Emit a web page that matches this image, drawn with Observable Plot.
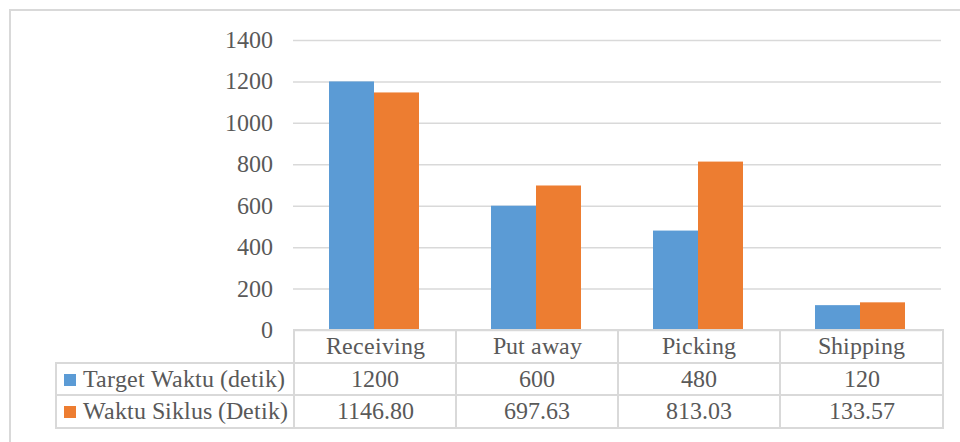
<!DOCTYPE html>
<html>
<head>
<meta charset="utf-8">
<script src="https://cdn.jsdelivr.net/npm/d3@7"></script>
<script src="https://cdn.jsdelivr.net/npm/@observablehq/plot@0.6"></script>
<style>
  @font-face { font-family: "ChartSerif"; src: local("Liberation Serif"), local("LiberationSerif-Regular"), local("LiberationSerif"), local("DejaVu Serif"), local("DejaVuSerif"); }
  html, body { margin: 0; padding: 0; background: #fff; overflow: hidden; }
  #wrap { position: relative; width: 960px; height: 442px; overflow: hidden; font-family: ChartSerif, 'Liberation Serif', 'Times New Roman', Times, serif; color: #595959; }
  #frame { position: absolute; left: 9px; top: 9px; width: 1000px; height: 500px; border: 2px solid #d9d9d9; box-sizing: border-box; }
  #chart { position: absolute; left: 0; top: 0; }
  #chart svg, #chart svg text { font-family: ChartSerif, 'Liberation Serif', 'Times New Roman', Times, serif !important; }
  #tbl { position: absolute; left: 55px; top: 329px; border-collapse: collapse; table-layout: fixed; width: 887px; font-size: 23.5px; font-family: ChartSerif, 'Liberation Serif', 'Times New Roman', Times, serif; }
  #tbl td { border: 2px solid #d9d9d9; height: 30.5px; padding: 0; text-align: center; vertical-align: middle; line-height: 30px; white-space: nowrap; color: #595959; }
  #tbl td.blank { border-top: none; border-left: none; }
  #tbl td.name { text-align: left; padding-left: 7px; }
  .sw { display: inline-block; width: 12px; height: 12px; margin-right: 7px; vertical-align: 1px; }
</style>
</head>
<body>
<div id="wrap">
  <div id="frame"></div>
  <div id="chart"></div>
  <table id="tbl"></table>
</div>
<script>
const categories = ["Receiving", "Put away", "Picking", "Shipping"];
const seriesNames = ["Target Waktu (detik)", "Waktu Siklus (Detik)"];
const targetValues = [1200, 600, 480, 120];
const cycleValues = [1146.80, 697.63, 813.03, 133.57];
const targetLabels = ["1200", "600", "480", "120"];
const cycleLabels = ["1146.80", "697.63", "813.03", "133.57"];
const yTicks = [0, 200, 400, 600, 800, 1000, 1200, 1400];
const colors = ["#5B9BD5", "#ED7D31"];

const rows = [];
categories.forEach((c, i) => {
  rows.push({category: c, series: seriesNames[0], value: targetValues[i]});
  rows.push({category: c, series: seriesNames[1], value: cycleValues[i]});
});

const font = "ChartSerif, 'Liberation Serif', 'Times New Roman', Times, serif";
const plot = Plot.plot({
  width: 960,
  height: 442,
  marginTop: 40,
  marginBottom: 112,
  marginLeft: 293,
  marginRight: 19,
  style: {fontFamily: font, color: "#595959", background: "transparent", overflow: "visible"},
  fx: {domain: categories, paddingInner: 0, paddingOuter: 0, axis: null, label: null},
  x: {domain: seriesNames, paddingInner: 0, paddingOuter: 0.761, axis: null, label: null},
  y: {domain: [0, 1400], ticks: yTicks, label: null},
  color: {domain: seriesNames, range: colors},
  marks: [
    Plot.gridY(yTicks, {stroke: "#d9d9d9", strokeOpacity: 1, strokeWidth: 1.5}),
    Plot.barY(rows, {fx: "category", x: "series", y: "value", fill: "series", inset: 0}),
    Plot.axisY(yTicks, {tickSize: 0, tickPadding: 21, fontSize: 23.5, fill: "#595959", label: null, tickFormat: d => String(d)})
  ]
});
document.getElementById("chart").appendChild(plot);

// data table below the chart
const tbl = document.getElementById("tbl");
const colg = document.createElement("colgroup");
[238, 162, 162, 162, 163].forEach(w => { const c = document.createElement("col"); c.style.width = w + "px"; colg.appendChild(c); });
tbl.appendChild(colg);
const head = document.createElement("tr");
const blank = document.createElement("td"); blank.className = "blank"; head.appendChild(blank);
categories.forEach(c => { const td = document.createElement("td"); td.textContent = c; head.appendChild(td); });
tbl.appendChild(head);
[[seriesNames[0], targetLabels, colors[0]], [seriesNames[1], cycleLabels, colors[1]]].forEach(([name, labels, col]) => {
  const tr = document.createElement("tr");
  const nm = document.createElement("td"); nm.className = "name";
  const sw = document.createElement("span"); sw.className = "sw"; sw.style.background = col;
  nm.appendChild(sw); nm.appendChild(document.createTextNode(name));
  tr.appendChild(nm);
  labels.forEach(l => { const td = document.createElement("td"); td.textContent = l; tr.appendChild(td); });
  tbl.appendChild(tr);
});
</script>
</body>
</html>
